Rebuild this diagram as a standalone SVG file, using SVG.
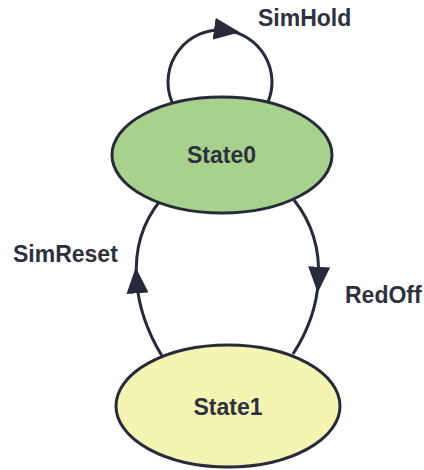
<svg xmlns="http://www.w3.org/2000/svg" width="424" height="470" viewBox="0 0 424 470">
  <style>
    .edge { fill: none; stroke: #272a3a; stroke-width: 3; marker-mid: url(#arrow); }
    .state { stroke: #272a3a; stroke-width: 3; }
    .label { font-family: "Liberation Sans", Arial, sans-serif; font-weight: bold; font-size: 23px; fill: #2d303d; }
  </style>
  <defs>
    <marker id="arrow" markerUnits="userSpaceOnUse" viewBox="0 0 26 22" markerWidth="26" markerHeight="22" refX="13" refY="11" orient="auto">
      <path d="M0 0 L26 11 L0 22 Z" fill="#272a3a"/>
    </marker>
  </defs>
  <rect width="424" height="470" fill="#ffffff"/>

  <!-- transitions -->
  <g id="connectors">
    <path id="e-simhold" class="edge" d="M172 102 A52 52 0 0 1 227 30.5 A52 52 0 0 1 268 102"/>
    <path id="e-simreset" class="edge" d="M162 356 C146.7 330.8 138.3 304.8 136.6 280.3 C134.5 250.3 142.4 222.5 160 201"/>
    <path id="e-redoff" class="edge" d="M294 200 C311.6 222 320.1 250.1 318.4 279.8 C317 304.2 308.8 329.7 293 354"/>
    <text class="label" x="258" y="26">SimHold</text>
    <text class="label" x="13" y="262">SimReset</text>
    <text class="label" x="345" y="303">RedOff</text>
  </g>

  <!-- states -->
  <g id="state0">
    <ellipse class="state" cx="222" cy="155" rx="110" ry="58" fill="#a9d18e"/>
    <text class="label" x="221.5" y="163" text-anchor="middle">State0</text>
  </g>
  <g id="state1">
    <ellipse class="state" cx="228" cy="406" rx="112" ry="61" fill="#f5f5b3"/>
    <text class="label" x="228" y="415" text-anchor="middle">State1</text>
  </g>
</svg>
